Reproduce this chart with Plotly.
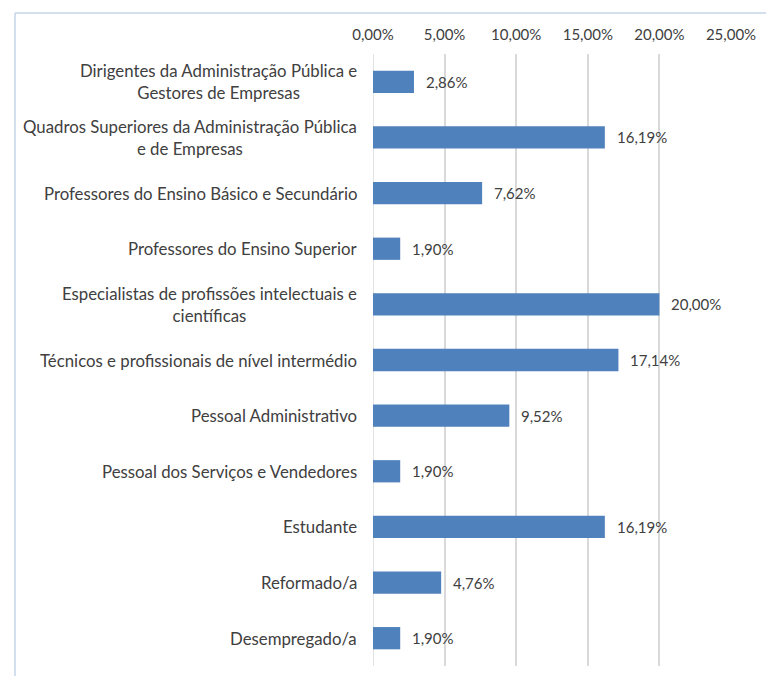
import plotly.graph_objects as go

categories = [
    "Dirigentes da Administração Pública e<br>Gestores de Empresas",
    "Quadros Superiores da Administração Pública<br>e de Empresas",
    "Professores do Ensino Básico e Secundário",
    "Professores do Ensino Superior",
    "Especialistas de profissões intelectuais e<br>científicas",
    "Técnicos e profissionais de nível intermédio",
    "Pessoal Administrativo",
    "Pessoal dos Serviços e Vendedores",
    "Estudante",
    "Reformado/a",
    "Desempregado/a",
]
values = [0.0286, 0.1619, 0.0762, 0.0190, 0.2000, 0.1714, 0.0952, 0.0190, 0.1619, 0.0476, 0.0190]
tick_vals = [0, 0.05, 0.10, 0.15, 0.20, 0.25]

def fmt(v):
    return f"{v*100:.2f}%".replace(".", ",")

FONT = "Lato"
TXT = "#404040"

fig = go.Figure(go.Bar(
    x=values, y=categories, orientation="h",
    marker=dict(color="#4F81BD", line=dict(width=0)),
    width=0.4,
))

annotations = []
for c, v in zip(categories, values):
    annotations.append(dict(x=v, y=c, xref="x", yref="y", text=fmt(v), showarrow=False,
                            xanchor="left", xshift=10, font=dict(family=FONT, size=15, color=TXT)))
    annotations.append(dict(x=-0.038, y=c, xref="paper", yref="y", text=c, showarrow=False,
                            xanchor="right", align="center", font=dict(family=FONT, size=16.8, color=TXT)))

fig.update_layout(
    width=766, height=676,
    margin=dict(l=373, r=32, t=54, b=10),
    paper_bgcolor="white", plot_bgcolor="white",
    separators=",.",
    showlegend=False,
    bargap=0.6,
    xaxis=dict(range=[0, 0.25], side="top", tickvals=tick_vals, tickformat=".2%",
               showgrid=True, gridcolor="#D9D9D9", gridwidth=1.5, zeroline=False,
               showline=False, ticks="", ticklabelstandoff=10,
               tickfont=dict(family=FONT, size=15, color=TXT),
               fixedrange=True),
    yaxis=dict(autorange="reversed", showticklabels=False, showgrid=False, zeroline=False,
               showline=False, ticks="", fixedrange=True),
    annotations=annotations,
    shapes=[
        dict(type="line", xref="paper", yref="paper", x0=-1.0, x1=1.2, y0=1.067, y1=1.067,
             line=dict(color="#C5D5E8", width=1.5)),
        dict(type="line", xref="paper", yref="paper", x0=-1.0, x1=-1.0, y0=1.067, y1=-0.02,
             line=dict(color="#C5D5E8", width=1.5)),
    ],
)
fig.add_shape(type="line", xref="x", yref="paper", x0=0, x1=0, y0=0, y1=1,
              line=dict(color="#D9D9D9", width=1.5), layer="below")

fig.write_html("out.html", config={"displayModeBar": False},
               post_script="document.body.style.margin='0';")
